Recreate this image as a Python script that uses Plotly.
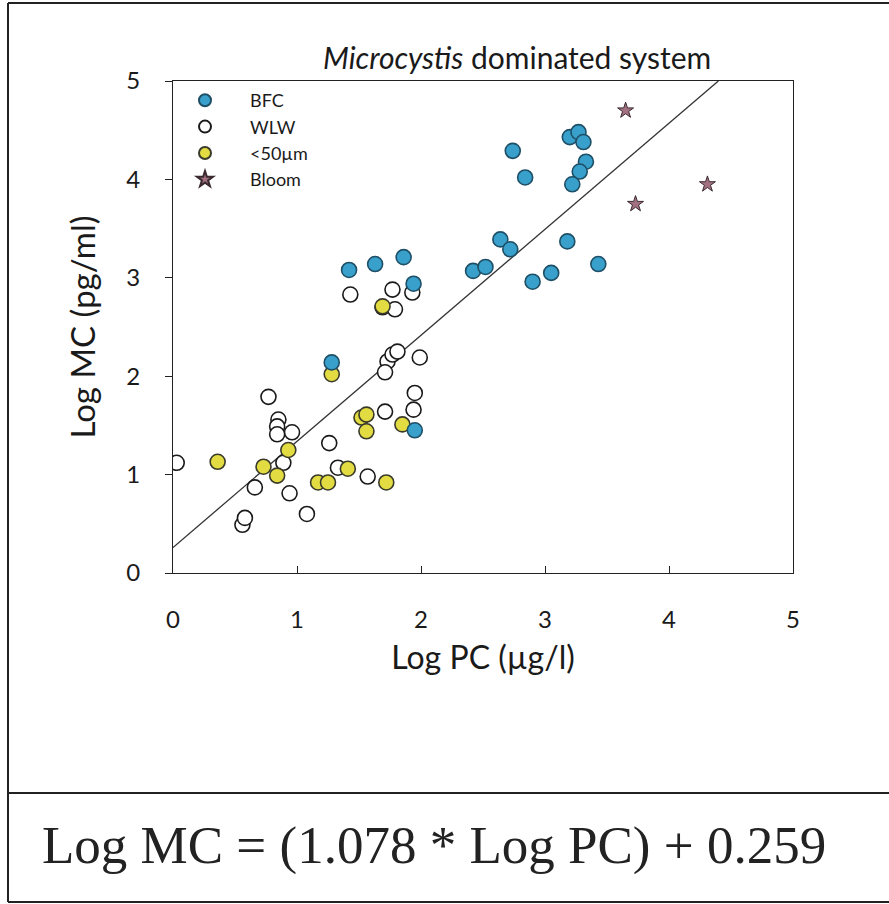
import numpy as np
import plotly.graph_objects as go

# ---- data ----
bfc_x = [1.42, 1.63, 1.86, 1.94, 1.95, 2.42, 2.52, 2.64, 2.72, 2.74, 2.84, 3.20, 3.27, 3.31,
         3.33, 3.28, 3.22, 3.18, 3.43, 3.05, 2.90, 1.28]
bfc_y = [3.08, 3.14, 3.21, 2.94, 1.45, 3.07, 3.11, 3.39, 3.29, 4.29, 4.02, 4.43, 4.48, 4.38,
         4.18, 4.08, 3.95, 3.37, 3.14, 3.05, 2.96, 2.14]

wlw_x = [0.03, 0.77, 0.85, 0.84, 0.84, 0.96, 0.89, 0.66, 0.94, 1.08, 0.56, 0.58, 1.26, 1.73,
         1.77, 1.71, 1.81, 1.99, 1.95, 1.94, 1.71, 1.33, 1.57, 1.43, 1.77, 1.93, 1.69, 1.79]
wlw_y = [1.12, 1.79, 1.56, 1.49, 1.41, 1.43, 1.12, 0.87, 0.81, 0.60, 0.49, 0.56, 1.32, 2.15,
         2.22, 2.04, 2.25, 2.19, 1.83, 1.66, 1.64, 1.07, 0.98, 2.83, 2.88, 2.85, 2.70, 2.68]

small_x = [0.36, 0.73, 0.84, 0.93, 1.17, 1.25, 1.41, 1.72, 1.52, 1.56, 1.56, 1.85, 1.28, 1.69]
small_y = [1.13, 1.08, 0.99, 1.25, 0.92, 0.92, 1.06, 0.92, 1.58, 1.61, 1.44, 1.51, 2.02, 2.71]

bloom_x = [3.65, 3.73, 4.31]
bloom_y = [4.70, 3.75, 3.95]

slope = 1.078
intercept = 0.259

x_ticks = [0, 1, 2, 3, 4, 5]
y_ticks = [0, 1, 2, 3, 4, 5]

# ---- figure ----
W, H = 889, 904
ML, MR, MT, MB = 173, 96, 81, 331
PW, PH = W - ML - MR, H - MT - MB

def px(xp):
    return (xp - ML) / PW

def py(yp):
    return (H - MB - yp) / PH

FONT = "Lato"

fig = go.Figure()

x_end = (5 - intercept) / slope
line_x = np.array([0.0, x_end])
line_y = slope * line_x + intercept
fig.add_trace(go.Scatter(x=line_x, y=line_y, mode="lines",
                         line=dict(color="#333333", width=1.3), showlegend=False,
                         hoverinfo="skip"))

fig.add_trace(go.Scatter(x=wlw_x, y=wlw_y, mode="markers", name="WLW", legendrank=2,
                         legendgroup="b",
                         marker=dict(symbol="circle", size=15, color="white",
                                     line=dict(color="#1a1a1a", width=1.6))))
fig.add_trace(go.Scatter(x=small_x, y=small_y, mode="markers", name="<50\u00b5m", legendrank=3,
                         legendgroup="c",
                         marker=dict(symbol="circle", size=15, color="#e2dc42",
                                     line=dict(color="#3a3a2a", width=1.6))))
fig.add_trace(go.Scatter(x=bfc_x, y=bfc_y, mode="markers", name="BFC", legendrank=1,
                         legendgroup="a",
                         marker=dict(symbol="circle", size=15, color="#38a0cb",
                                     line=dict(color="#1e4f66", width=1.6))))
fig.add_trace(go.Scatter(x=bloom_x, y=bloom_y, mode="markers", name="Bloom", legendrank=4,
                         legendgroup="d",
                         marker=dict(symbol="star", size=12, color="#a27080",
                                     line=dict(color="#3a2a30", width=1))))

axis_common = dict(range=[0, 5], showline=True, linecolor="#222222", linewidth=1.3,
                   mirror=True, showgrid=False, zeroline=False,
                   tickfont=dict(family=FONT, size=24, color="#1a1a1a"),
                   ticklen=7, tickwidth=1.2, tickcolor="#222222")

fig.update_xaxes(**axis_common, tickvals=x_ticks, ticktext=[str(v) for v in x_ticks],
                 ticks="inside", ticklabelstandoff=25,
                 title=dict(text="Log PC (\u00b5g/l)", font=dict(family=FONT, size=32, color="#1a1a1a"),
                            standoff=14))
fig.update_yaxes(**axis_common, tickvals=y_ticks, ticktext=[str(v) for v in y_ticks],
                 ticks="outside", ticklabelstandoff=20,
                 title=dict(text="Log MC (pg/ml)", font=dict(family=FONT, size=33, color="#1a1a1a"),
                            standoff=20))

shapes = [
    dict(type="line", xref="paper", yref="paper", x0=px(8), x1=px(889), y0=py(3), y1=py(3),
         line=dict(color="#222222", width=2)),
    dict(type="line", xref="paper", yref="paper", x0=px(8), x1=px(8), y0=py(3), y1=py(902),
         line=dict(color="#222222", width=2)),
    dict(type="line", xref="paper", yref="paper", x0=px(8), x1=px(889), y0=py(793), y1=py(793),
         line=dict(color="#222222", width=2)),
    dict(type="line", xref="paper", yref="paper", x0=px(8), x1=px(889), y0=py(902), y1=py(902),
         line=dict(color="#222222", width=2)),
]

annotations = [
    dict(text="<i>Microcystis</i> dominated system", xref="paper", yref="paper",
         x=px(713), y=py(57), xanchor="right", yanchor="middle", showarrow=False,
         font=dict(family=FONT, size=30, color="#1a1a1a")),
    dict(text="Log MC = (1.078 * Log PC) + 0.259", xref="paper", yref="paper",
         x=px(40), y=py(845), xanchor="left", yanchor="middle", showarrow=False,
         font=dict(family="Liberation Serif", size=53, color="#222222")),
]

fig.update_layout(
    width=W, height=H, autosize=False,
    margin=dict(l=ML, r=MR, t=MT, b=MB),
    paper_bgcolor="white", plot_bgcolor="white",
    showlegend=True,
    legend=dict(x=px(160), y=py(82), xanchor="left", yanchor="top",
                bgcolor="rgba(0,0,0,0)", borderwidth=0,
                font=dict(family=FONT, size=18, color="#1a1a1a"),
                itemsizing="constant", itemwidth=80, tracegroupgap=10,
                traceorder="normal"),
    shapes=shapes, annotations=annotations,
)

fig.write_html("out.html", config={"displayModeBar": False},
               post_script="document.body.style.margin='0px';"
                           "document.documentElement.style.overflow='hidden';")
